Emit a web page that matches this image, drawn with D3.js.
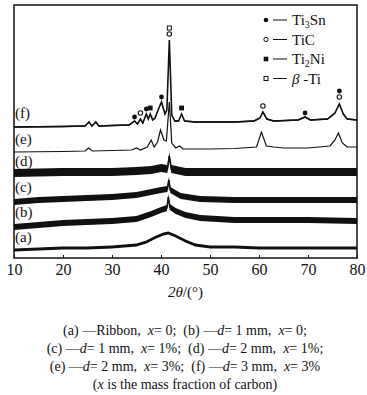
<!DOCTYPE html>
<html>
<head>
<meta charset="UTF-8">
<script src="https://d3js.org/d3.v7.min.js"></script>
<style>
  body { margin: 0; background: #fff; }
  text { font-family: "Liberation Serif", "DejaVu Serif", serif; fill: #111; }
</style>
</head>
<body>
<svg id="chart" width="367" height="395"></svg>
<script>
// 2theta (deg) and intensity (a.u.), offsets included
const traceA = [[10,8],[15,9],[20,10],[25,10],[30,11],[35,13],[37,16],[39,21],[40.5,24],[41.5,25],[43,22],[45,17],[47,13],[50,11],[55,11],[60,10],[70,10],[80,10]];
const traceB = [[10,31],[15,33],[20,35],[25,36],[30,37],[35,39],[38,44],[40,48],[41.2,50],[41.5,61],[41.8,51],[43,47],[45,43],[48,40],[55,38],[60,38],[70,38],[80,37]];
const traceC = [[10,56],[15,58],[20,59],[25,60],[30,61],[35,63],[38,66],[40,68],[41.3,69],[41.6,78],[41.9,68],[44,62],[48,59],[55,58],[65,58],[80,58]];
const traceD = [[10,85],[20,86],[30,86],[35,87],[38,88],[40,90],[41.3,89],[41.7,102],[42.1,89],[45,86],[50,86],[60,86],[80,86]];
const traceE = [[10,106],[20,106.5],[24.5,107],[25.2,110],[26,107],[30,107.5],[34,108],[35,110],[35.8,108],[37.2,111],[38,118],[38.6,111],[39.3,116],[39.9,128],[40.6,118],[41.1,117],[41.7,156],[42.2,115],[43,110],[43.8,112],[44.5,109],[50,109],[55,109.5],[59.5,111],[60.5,126],[61.5,112],[63,111],[65,110],[70,110],[74.5,112],[75.5,118],[76.2,125],[77,115],[78,111],[80,111]];
const traceF = [[10,131],[20,131.5],[24.5,132],[25.3,136],[25.9,132],[26.7,136],[27.3,132],[30,132.5],[33.5,133],[34.6,137],[35.2,134],[35.8,139],[36.3,135],[37,144],[37.4,139],[37.8,144],[38.3,138],[38.8,140],[39.4,148],[40.1,156],[40.8,144],[41.2,148],[41.7,218],[42.2,143],[42.8,137],[43.6,137],[44.2,144],[44.8,137],[47,136],[50,136],[55,136],[59,137],[60.2,140],[60.8,146],[61.6,139],[63,137],[68,138],[69.4,141],[70.5,138],[74,139],[75.5,145],[76.4,154],[77.2,144],[78,139],[80,138]];

const traceNames = ["(a)", "(b)", "(c)", "(d)", "(e)", "(f)"];
const traces = [traceA, traceB, traceC, traceD, traceE, traceF];
const labelLevels = [21, 46, 71, 97, 119, 145];
// half thickness of the noise band of each pattern (a.u.)
const noiseBand = [1.4, 3, 3, 4, 0, 0.8];

// phase markers above the (f) peaks: [2theta, intensity]
const ti3sn = [[34.6,141],[37,149],[40.1,161],[69.4,145],[76.4,167]];
const tic = [[35.8,145],[41.7,224],[60.8,152],[76.4,161]];
const ti2ni = [[37.8,150],[44.2,150]];
const betaTi = [[41.7,230]];

const xTicks = [10, 20, 30, 40, 50, 60, 70, 80];
const legendLabels = ["Ti<tspan baseline-shift='-3' font-size='10'>3</tspan>Sn", "TiC", "Ti<tspan baseline-shift='-3' font-size='10'>2</tspan>Ni", "<tspan font-style='italic'>β</tspan> -Ti"];
const captionLines = [
  "(a) —Ribbon,  <tspan font-style='italic'>x</tspan>= 0;  (b) —<tspan font-style='italic'>d</tspan>= 1 mm,  <tspan font-style='italic'>x</tspan>= 0;",
  "(c) —<tspan font-style='italic'>d</tspan>= 1 mm,  <tspan font-style='italic'>x</tspan>= 1%;  (d) —<tspan font-style='italic'>d</tspan>= 2 mm,  <tspan font-style='italic'>x</tspan>= 1%;",
  "(e) —<tspan font-style='italic'>d</tspan>= 2 mm,  <tspan font-style='italic'>x</tspan>= 3%;  (f) —<tspan font-style='italic'>d</tspan>= 3 mm,  <tspan font-style='italic'>x</tspan>= 3%",
  "(<tspan font-style='italic'>x</tspan> is the mass fraction of carbon)"
];

const svg = d3.select("#chart");
const margin = { top: 5, left: 14, right: 10, bottom: 137 };
const width = 367 - margin.left - margin.right;
const height = 395 - margin.top - margin.bottom;

const x = d3.scaleLinear().domain([10, 80]).range([margin.left, margin.left + width]);
const y = d3.scaleLinear().domain([0, 253]).range([margin.top + height, margin.top]);

svg.append("clipPath").attr("id", "clip")
  .append("rect").attr("x", margin.left).attr("y", margin.top).attr("width", width).attr("height", height);

const plot = svg.append("g").attr("clip-path", "url(#clip)");
const line = d3.line().x(d => x(d[0])).y(d => y(d[1]));

traces.forEach((tr, i) => {
  const w = noiseBand[i];
  if (w > 0) {
    const band = d3.area().x(d => x(d[0])).y0(d => y(d[1] - w)).y1(d => y(d[1] + w));
    plot.append("path").attr("d", band(tr)).attr("fill", "#111");
  }
  plot.append("path").attr("d", line(tr))
    .attr("fill", "none").attr("stroke", "#111")
    .attr("stroke-width", i === 4 ? 1.2 : 1.6);
});

svg.selectAll("text.tlabel").data(traceNames).join("text")
  .attr("class", "tlabel")
  .attr("x", margin.left + 1)
  .attr("y", (d, i) => y(labelLevels[i]))
  .attr("dy", "0.35em")
  .attr("font-size", 15)
  .text(d => d);

// markers
const mk = svg.append("g");
mk.selectAll("circle.f").data(ti3sn).join("circle").attr("class", "f")
  .attr("cx", d => x(d[0])).attr("cy", d => y(d[1])).attr("r", 2.4).attr("fill", "#111");
mk.selectAll("circle.o").data(tic).join("circle").attr("class", "o")
  .attr("cx", d => x(d[0])).attr("cy", d => y(d[1])).attr("r", 2.2).attr("fill", "#fff").attr("stroke", "#111").attr("stroke-width", 1.1);
mk.selectAll("rect.f").data(ti2ni).join("rect").attr("class", "f")
  .attr("x", d => x(d[0]) - 2.4).attr("y", d => y(d[1]) - 2.4).attr("width", 4.8).attr("height", 4.8).attr("fill", "#111");
mk.selectAll("rect.o").data(betaTi).join("rect").attr("class", "o")
  .attr("x", d => x(d[0]) - 2).attr("y", d => y(d[1]) - 2).attr("width", 4).attr("height", 4).attr("fill", "#fff").attr("stroke", "#111").attr("stroke-width", 1);

// frame and ticks
svg.append("rect")
  .attr("x", margin.left).attr("y", margin.top).attr("width", width).attr("height", height)
  .attr("fill", "none").attr("stroke", "#111").attr("stroke-width", 1.5);

const xAxis = svg.append("g").attr("transform", `translate(0,${margin.top + height})`)
  .call(d3.axisBottom(x).tickValues(xTicks).tickSizeInner(-3).tickSizeOuter(0).tickPadding(6));
xAxis.select(".domain").remove();
xAxis.selectAll("line").attr("stroke", "#111");
xAxis.selectAll("text").attr("font-size", 16).attr("font-family", "Liberation Serif").attr("fill", "#111");

svg.append("text")
  .attr("x", x(45)).attr("y", 297)
  .attr("text-anchor", "middle").attr("font-size", 15)
  .html("<tspan font-style='italic'>2θ</tspan>/(°)");

// legend
const legendSymbols = ["dot", "ring", "square", "box"];
const lg = svg.append("g");
legendLabels.forEach((lab, i) => {
  const ly = 20 + i * 19.5;
  const sx = 266;
  const s = legendSymbols[i];
  if (s === "dot") lg.append("circle").attr("cx", sx).attr("cy", ly).attr("r", 2.3).attr("fill", "#111");
  if (s === "ring") lg.append("circle").attr("cx", sx).attr("cy", ly).attr("r", 2.1).attr("fill", "#fff").attr("stroke", "#111").attr("stroke-width", 1);
  if (s === "square") lg.append("rect").attr("x", sx - 2.3).attr("y", ly - 2.3).attr("width", 4.6).attr("height", 4.6).attr("fill", "#111");
  if (s === "box") lg.append("rect").attr("x", sx - 2).attr("y", ly - 2).attr("width", 4).attr("height", 4).attr("fill", "#fff").attr("stroke", "#111").attr("stroke-width", 1);
  lg.append("line").attr("x1", sx + 7).attr("x2", sx + 21).attr("y1", ly).attr("y2", ly).attr("stroke", "#111").attr("stroke-width", 1);
  lg.append("text").attr("x", sx + 26).attr("y", ly).attr("dy", "0.35em").attr("font-size", 15).html(lab);
});

// caption
svg.selectAll("text.cap").data(captionLines).join("text")
  .attr("class", "cap")
  .attr("x", 185).attr("y", (d, i) => 335 + i * 18)
  .attr("text-anchor", "middle").attr("font-size", 14)
  .attr("xml:space", "preserve").style("white-space", "pre")
  .html(d => d);
</script>
</body>
</html>
